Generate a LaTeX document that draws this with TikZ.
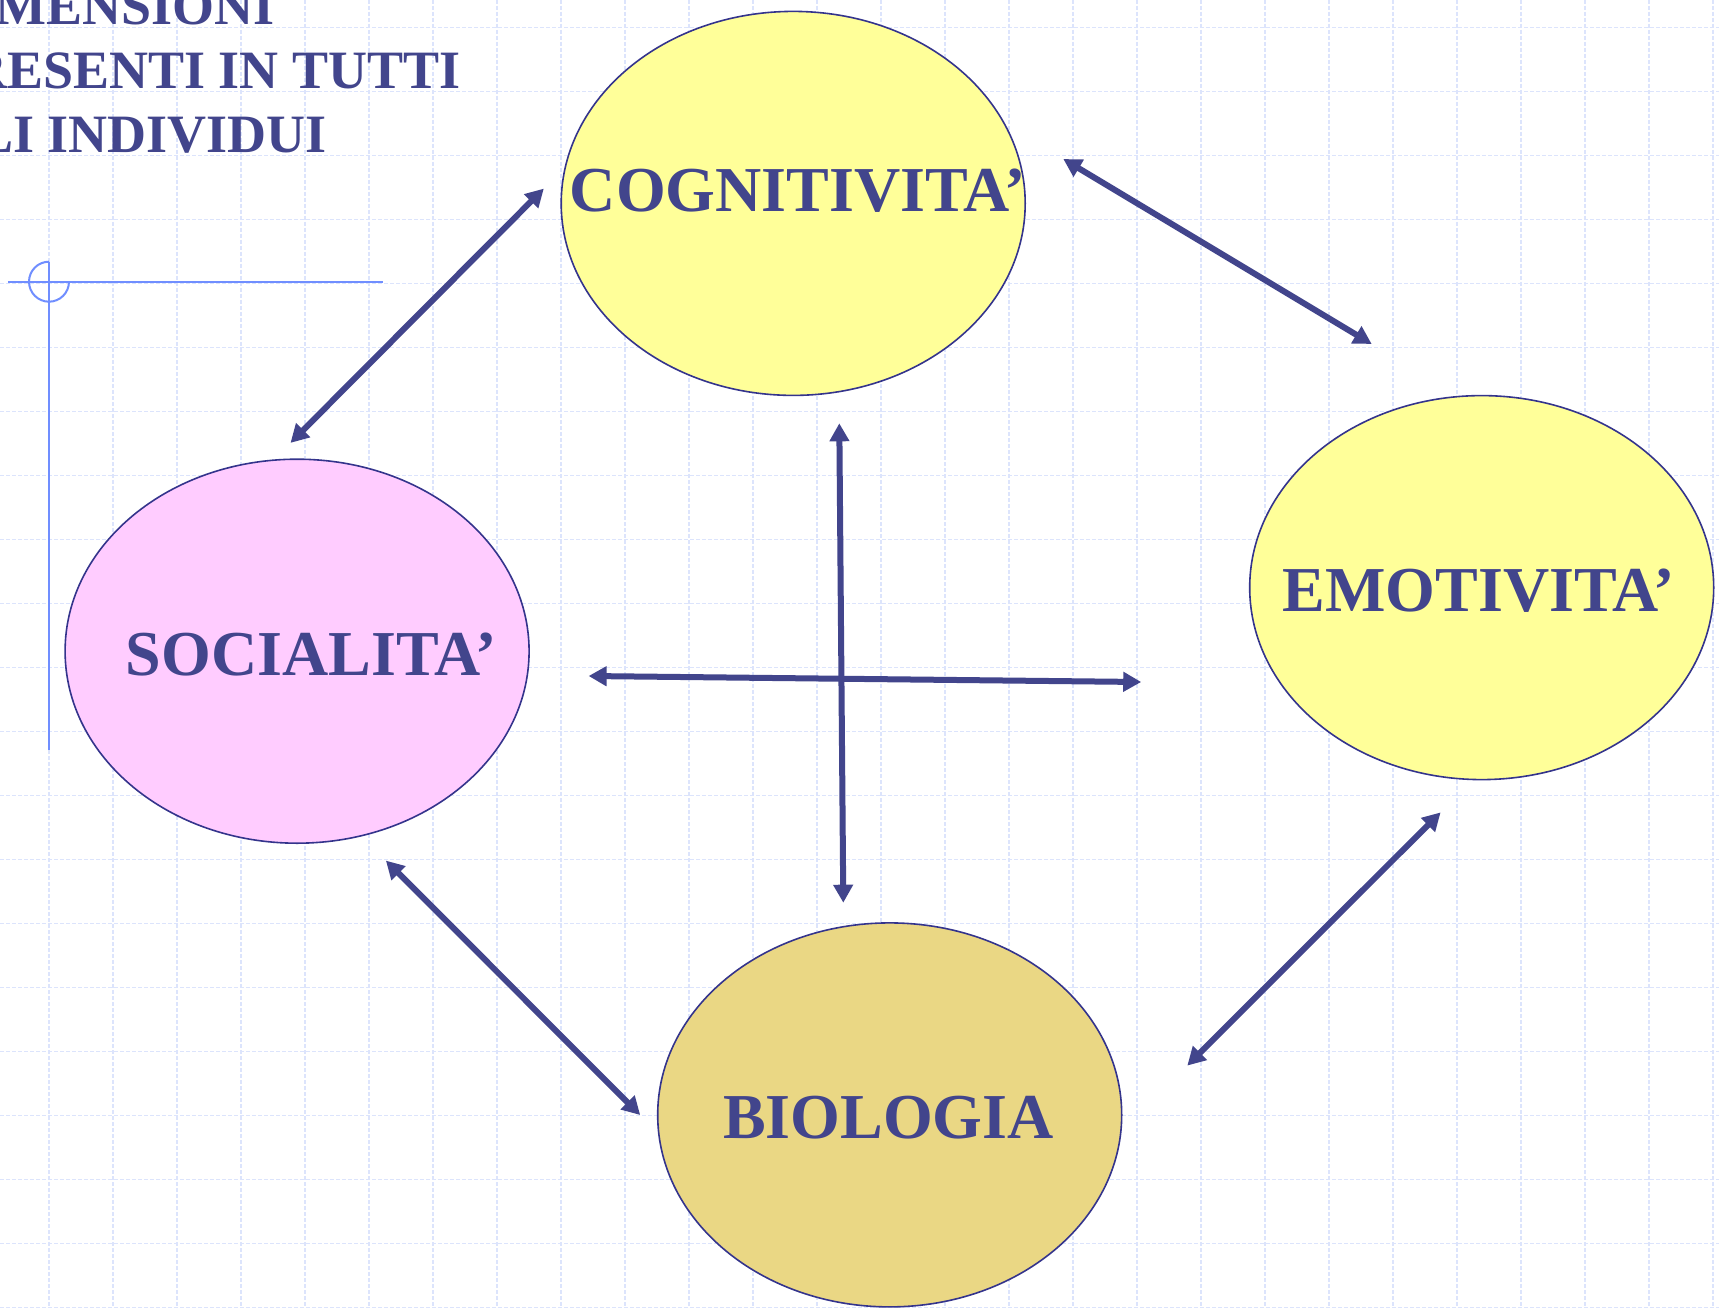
\documentclass[tikz,border=0pt]{standalone}
\usepackage{fontspec}
\setmainfont{Liberation Serif}
\usetikzlibrary{shapes.geometric,arrows.meta}
\definecolor{gridc}{RGB}{220,228,252}
\definecolor{crossc}{RGB}{112,142,255}
\definecolor{inkc}{RGB}{66,69,140}
\definecolor{outc}{RGB}{52,52,140}
\definecolor{yelc}{RGB}{255,255,153}
\definecolor{pinkc}{RGB}{255,204,255}
\definecolor{tanc}{RGB}{234,215,132}
\tikzset{
  bubble/.style={ellipse, draw=outc, line width=1.6pt, minimum width=464pt, minimum height=384pt, inner sep=0pt},
  lbl/.style={text=inkc, font=\fontsize{64}{78}\selectfont\bfseries, inner sep=0pt, anchor=base},
  ttl/.style={text=inkc, font=\fontsize{54}{64}\selectfont\bfseries, inner sep=0pt, anchor=base west},
  conn/.style={draw=inkc, line width=6pt, {Triangle[length=18pt,width=19pt]}-{Triangle[length=18pt,width=19pt]}},
  gridline/.style={draw=gridc, line width=1.3pt, dash pattern=on 4pt off 2pt},
  cross/.style={draw=crossc, line width=2pt}
}
\begin{document}
\begin{tikzpicture}[x=1pt,y=-1pt]
\useasboundingbox (0,0) rectangle (1719,1308);
\clip (0,0) rectangle (1719,1308);
\fill[white] (0,0) rectangle (1719,1308);
% grid
\foreach \i in {0,...,26} { \draw[gridline] ({49+64*\i},0) -- ({49+64*\i},1308); }
\foreach \j in {0,...,20} { \draw[gridline] (0,{27.7+64*\j}) -- (1719,{27.7+64*\j}); }
% crosshair
\coordinate (chL) at (8,281.7);
\coordinate (chR) at (383,281.7);
\coordinate (chT) at (49,261.7);
\coordinate (chB) at (49,750);
\draw[cross] (chL) -- (chR);
\draw[cross] (chT) -- (chB);
\draw[cross] (chT) arc[start angle=270, end angle=0, radius=20];
% title
\node[ttl] (t1) at (-65,25) {DIMENSIONI};
\node[ttl] (t2) at (-65,89) {PRESENTI IN TUTTI};
\node[ttl] (t3) at (-65,153) {GLI INDIVIDUI};
% ellipses
\node[bubble, fill=yelc] (cog) at (793.2,203.4) {};
\node[bubble, fill=yelc] (emo) at (1481.7,587.6) {};
\node[bubble, fill=pinkc] (soc) at (297.1,651.2) {};
\node[bubble, fill=tanc] (bio) at (889.7,1114.9) {};
\node[lbl] (cogT) at (798,211.7) {COGNITIVITA’};
\node[lbl] (emoT) at (1479,611.7) {EMOTIVITA’};
\node[lbl] (socT) at (311.5,675) {SOCIALITA’};
\node[lbl] (bioT) at (888.5,1138) {BIOLOGIA};
% arrow ends
\coordinate (a1) at (543.8,188.6);
\coordinate (a2) at (290.5,442.9);
\coordinate (b1) at (1063.3,159);
\coordinate (b2) at (1371.7,344);
\coordinate (c1) at (839.3,423.3);
\coordinate (c2) at (843.3,902.7);
\coordinate (d1) at (588.6,676);
\coordinate (d2) at (1141.2,682);
\coordinate (e1) at (385.9,860.6);
\coordinate (e2) at (640.2,1115);
\coordinate (f1) at (1440.6,812.4);
\coordinate (f2) at (1187.3,1065.6);
\draw[conn] (a1) -- (a2);
\draw[conn] (b1) -- (b2);
\draw[conn] (c1) -- (c2);
\draw[conn] (d1) -- (d2);
\draw[conn] (e1) -- (e2);
\draw[conn] (f1) -- (f2);
\end{tikzpicture}
\end{document}
